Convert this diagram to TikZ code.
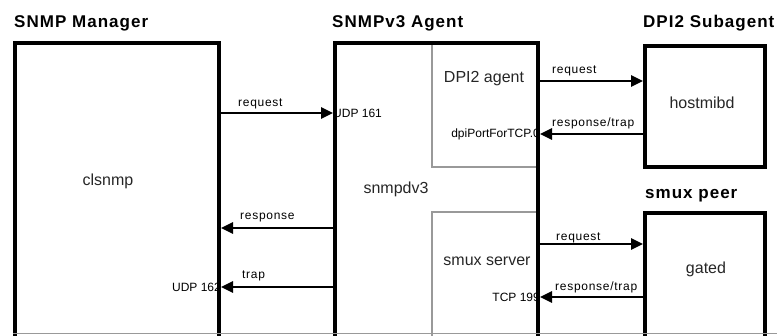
\documentclass[tikz,border=0pt]{standalone}
\usepackage{fontspec}
\setmainfont{Liberation Sans}
\newfontfamily\spacedfont[LetterSpace=6]{Liberation Sans}
\usetikzlibrary{arrows.meta}

\tikzset{
  thickbox/.style={rectangle, draw, line width=4pt, inner sep=0pt},
  thinbox/.style={rectangle, draw=black!40, line width=1.2pt, inner sep=0pt},
  msg/.style={line width=2.6pt, -{Triangle[length=12pt, width=11pt]}},
  title/.style={anchor=base west, inner sep=0pt, font=\spacedfont\fontsize{17}{20}\selectfont\bfseries},
  proc/.style={anchor=base, inner sep=0pt, font=\fontsize{16}{19}\selectfont, text=black!85},
  lbl/.style={anchor=base west, inner sep=0pt, font=\spacedfont\fontsize{12}{14}\selectfont},
  port/.style={inner sep=0pt, font=\fontsize{12}{14}\selectfont}
}

\begin{document}
\begin{tikzpicture}[x=1pt, y=-1pt]
    \useasboundingbox (0,0) rectangle (777,335);
    \clip (0,0) rectangle (777,335);

    % titles
    \node[title] (tmgr) at (14,27) {SNMP Manager};
    \node[title] (tagent) at (332,27) {SNMPv3 Agent};
    \node[title] (tsub) at (643,27) {DPI2 Subagent};
    \node[title] (tsmux) at (645,198) {smux peer};

    % inner parts of the agent
    \node[thinbox, minimum width=106, minimum height=125] (dpiagent) at (485,104.5) {};
    \node[thinbox, minimum width=106, minimum height=138] (smuxsrv) at (485,281) {};

    % boxes
    \node[thickbox, minimum width=204, minimum height=307] (mgr) at (117,196.5) {};
    \node[thickbox, minimum width=203, minimum height=307] (agent) at (436.5,196.5) {};
    \node[thickbox, minimum width=120, minimum height=121] (hostmibd) at (705,106.5) {};
    \node[thickbox, minimum width=120, minimum height=137] (gated) at (705,281.5) {};

    \draw[black!40, line width=1pt] (mgr.south west |- 0,333.5) -- (777,333.5);

    % process names
    \node[proc] (clsnmp) at (108,185) {clsnmp};
    \node[proc] (snmpdv3) at (396,193) {snmpdv3};
    \node[proc] (dpi) at (484,82) {DPI2 agent};
    \node[proc] (smux) at (487,265) {smux server};
    \node[proc] (hmd) at (702,108) {hostmibd};
    \node[proc] (gtd) at (706,273) {gated};

    % messages
    \draw[msg] (mgr.east |- 0,113) -- (agent.west |- 0,113);
    \draw[msg] (agent.west |- 0,228) -- (mgr.east |- 0,228);
    \draw[msg] (agent.west |- 0,287) -- (mgr.east |- 0,287);
    \draw[msg] (agent.east |- 0,81) -- (hostmibd.west |- 0,81);
    \draw[msg] (hostmibd.west |- 0,134) -- (agent.east |- 0,134);
    \draw[msg] (agent.east |- 0,244) -- (gated.west |- 0,244);
    \draw[msg] (gated.west |- 0,297) -- (agent.east |- 0,297);

    \node[lbl] (l1) at (238,106) {request};
    \node[lbl] (l2) at (240,219) {response};
    \node[lbl] (l3) at (242,278) {trap};
    \node[lbl] (l4) at (552,73) {request};
    \node[lbl] (l5) at (552,126) {response/trap};
    \node[lbl] (l6) at (556,240) {request};
    \node[lbl] (l7) at (555,290) {response/trap};

    % ports
    \node[port, anchor=west] (udp161) at (agent.west |- 0,113.5) {UDP 161};
    \node[port, anchor=east] (dpiport) at (agent.east |- 0,134.5) {dpiPortForTCP.0};
    \node[port, anchor=east] (udp162) at (mgr.east |- 0,287.5) {UDP 162};
    \node[port, anchor=east] (tcp199) at (agent.east |- 0,297.5) {TCP 199};
\end{tikzpicture}
\end{document}
